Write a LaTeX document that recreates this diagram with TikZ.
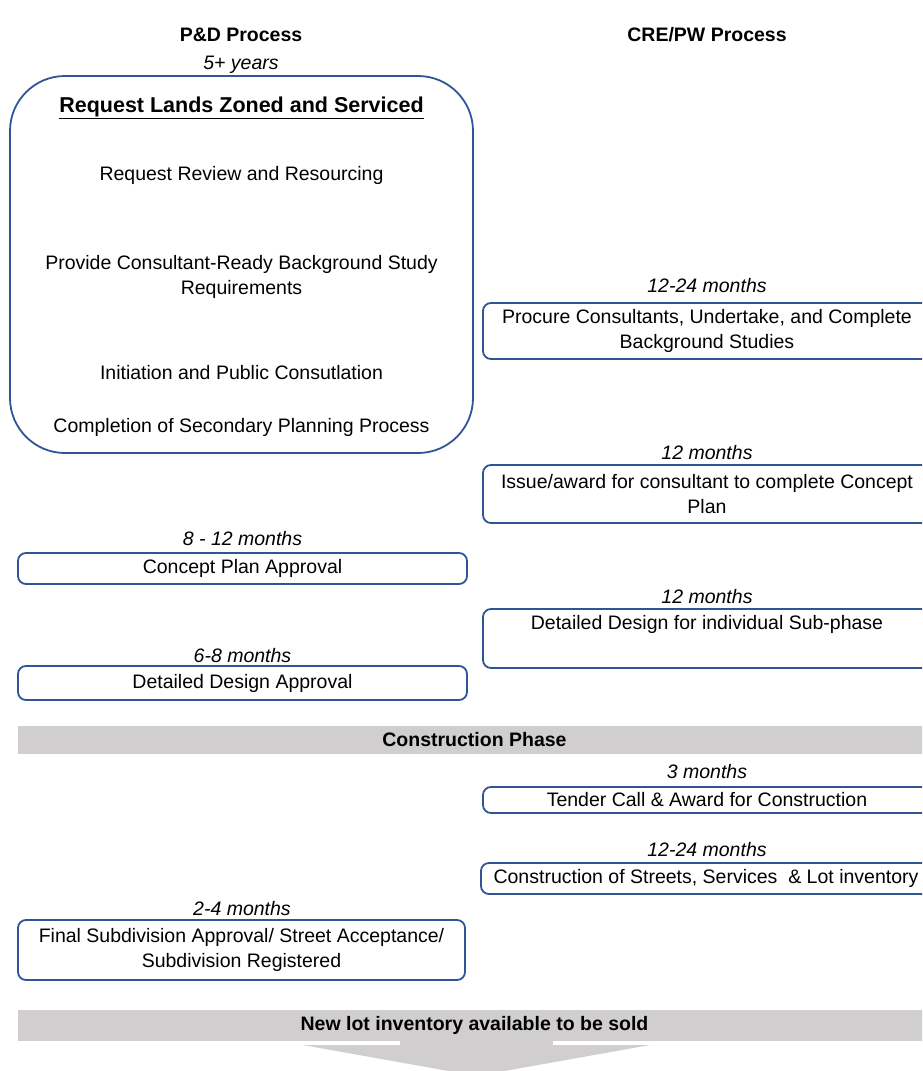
\documentclass[tikz,border=0pt]{standalone}
\usepackage{fontspec}
\setmainfont{Liberation Sans}
\definecolor{boxblue}{RGB}{47,85,151}
\definecolor{bargray}{RGB}{208,206,206}
\begin{document}
\begin{tikzpicture}[x=1pt,y=-1pt,
  every node/.style={font=\fontsize{19.5}{24.5}\selectfont, inner sep=0pt, align=center},
  hdr/.style={font=\fontsize{19.5}{24.5}\selectfont\bfseries},
  dur/.style={font=\fontsize{19.5}{24.5}\selectfont\itshape},
  stepbox/.style={draw=boxblue, line width=1.8pt, rounded corners=8pt},
  lbox/.style={stepbox, minimum width=449pt},
  rbox/.style={stepbox, minimum width=448pt},
  phasebar/.style={fill=bargray, draw=none, minimum width=913pt, font=\fontsize{19.5}{24.5}\selectfont\bfseries}
]
\path[use as bounding box] (0,0) rectangle (922,1071);
\clip (0,0) rectangle (922,1071);

% headers
\node[hdr] (hpd) at (241,35) {P\&D Process};
\node[hdr] (hcre) at (707,35) {CRE/PW Process};
\node[dur] (d0) at (241,65) {5+ years};

% big box
\node[draw=boxblue, line width=1.8pt, rounded corners=55pt, minimum width=463pt, minimum height=377pt] (big) at (241.5,264.5) {};
\node[font=\fontsize{21.5}{26}\selectfont\bfseries] (t0) at (241.5,108) {\underline{Request Lands Zoned and Serviced}};
\node (t1) at (241.5,175) {Request Review and Resourcing};
\node (t2) at (241.5,277) {Provide Consultant-Ready Background Study\\Requirements};
\node (t3) at (241.5,373) {Initiation and Public Consutlation};
\node (t4) at (241.5,427) {Completion of Secondary Planning Process};

% right column top
\node[dur] (d1) at (707,286) {12-24 months};
\node[rbox, minimum height=56pt] (r1) at (707,331) {Procure Consultants, Undertake, and Complete\\Background Studies};
\node[dur] (d2) at (707,453) {12 months};
\node[rbox, minimum height=58pt] (r2) at (707,494) {Issue/award for consultant to complete Concept\\Plan};

% left column
\node[dur] (d3) at (242.5,539) {8 - 12 months};
\node[lbox, minimum height=31pt] (l1) at (242.5,568.5) {Concept Plan Approval};
\node[dur] (d4) at (707,597) {12 months};
\node[rbox, minimum height=59pt] (r3) at (707,638.5) {Detailed Design for individual Sub-phase\\\strut};
\node[dur] (d5) at (242.5,656) {6-8 months};
\node[lbox, minimum height=34pt] (l2) at (242.5,683) {Detailed Design Approval};

% construction phase
\node[phasebar, minimum height=28pt] (cp) at (474.5,740) {Construction Phase};

\node[dur] (d6) at (707,772) {3 months};
\node[rbox, minimum height=26pt] (r4) at (707,800) {Tender Call \& Award for Construction};
\node[dur] (d7) at (707,850) {12-24 months};
\node[stepbox, minimum width=450pt, minimum height=31pt] (r5) at (706,878.5) {Construction of Streets, Services\ \ \& Lot inventory};
\node[dur] (d8) at (242,909) {2-4 months};
\node[stepbox, minimum width=447pt, minimum height=60pt] (l3) at (241.5,950) {Final Subdivision Approval/ Street Acceptance/\\Subdivision Registered};

% final bar and arrow
\node[phasebar, minimum height=31pt] (nl) at (474.5,1025.5) {New lot inventory available to be sold};
\fill[bargray] (400,1040) rectangle (553,1046);
\fill[bargray] (303,1045) -- (650,1045) -- (476.5,1076) -- cycle;
\end{tikzpicture}
\end{document}
